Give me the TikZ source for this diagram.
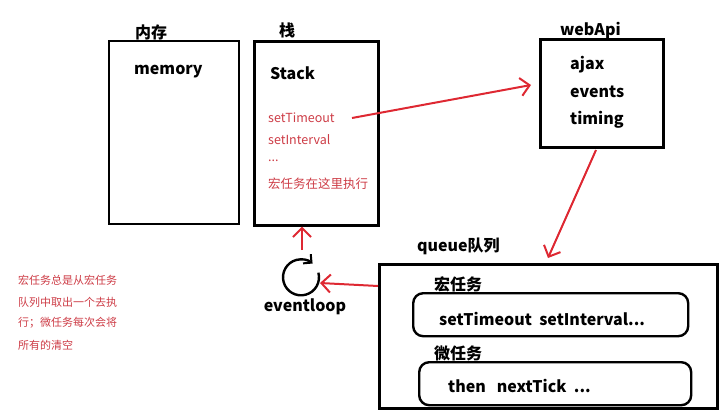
\documentclass[tikz,border=0pt]{standalone}
\usepackage{fontspec}
\setmainfont{Noto Sans CJK SC}
\usetikzlibrary{arrows.meta}
\definecolor{myred}{RGB}{222,40,50}
\definecolor{tred}{RGB}{205,60,70}
\tikzset{
  box/.style={draw=black, line width=2.6pt, inner sep=0pt},
  rbox/.style={draw=black, line width=2.4pt, rounded corners=10pt, inner sep=0pt},
  lbl/.style={font=\fontsize{16}{18}\selectfont\bfseries, anchor=west, inner sep=0pt},
  rtxt/.style={font=\fontsize{12.5}{14}\selectfont, text=tred, anchor=west, inner sep=0pt},
  note/.style={font=\fontsize{11}{21.7}\selectfont, text=tred, anchor=west, inner sep=0pt},
  rarrow/.style={draw=myred, line width=2pt, -{Straight Barb[length=9pt,width=18pt,line width=2pt]}},
}
\begin{document}
\begin{tikzpicture}[x=1pt,y=-1pt]
\useasboundingbox (0,0) rectangle (720,417);
% boxes
\draw[box] (109,41) rectangle (239,224);
\node[box, minimum width=124pt, minimum height=184pt, anchor=north west] (stack) at (253,40) {};
\node[box, minimum width=123pt, minimum height=108pt, anchor=north west] (web) at (539,38) {};
\node[box, minimum width=338pt, minimum height=144pt, anchor=north west] (queue) at (378,263) {};
\node[rbox, minimum width=275pt, minimum height=43pt, anchor=north west] (macro) at (412,292) {};
\node[rbox, minimum width=272pt, minimum height=43pt, anchor=north west] (micro) at (418,361) {};
% titles
\node[lbl] (tmem) at (135,32) {内存};
\node[lbl] (tstk) at (279,30) {栈};
\node[lbl] (tweb) at (560,31) {webApi};
\node[lbl] (tq) at (417,246) {queue队列};
\node[lbl] (tma) at (434,284) {宏任务};
\node[lbl] (tmi) at (434,353) {微任务};
% box contents
\node[lbl] (mem) at (134,72) {memory};
\node[lbl] (stk) at (270,73) {Stack};
\node[rtxt] (st1) at (268,118) {setTimeout};
\node[rtxt] (st2) at (268,140) {setInterval};
\node[rtxt] (st3) at (268,161) {...};
\node[rtxt] (st4) at (268,184) {宏任务在这里执行};
\node[lbl] (w1) at (570,65) {ajax};
\node[lbl] (w2) at (570,92) {events};
\node[lbl] (w3) at (570,120) {timing};
\node[lbl] (m1) at (439,319) {setTimeout\ \ setInterval...};
\node[lbl] (m2) at (448,386) {then\ \ \ nextTick\ \ ...};
% note
\node[note] (n1) at (18,280) {宏任务总是从宏任务};
\node[note] (n2) at (18,302) {队列中取出一个去执};
\node[note] (n3) at (18,323) {行；微任务每次会将};
\node[note] (n4) at (18,345) {所有的清空};
% eventloop
\coordinate (ec) at (301,268);
\draw[line width=2.4pt, -{Straight Barb[length=6pt,width=12pt,line width=2pt]}] ([shift={(-15:18pt)}]ec) arc[start angle=15, end angle=-310, radius=18pt];
\node[lbl, anchor=north] (el) at (305,299) {eventloop};
% arrows
\coordinate (a1) at (352,118);
\coordinate (a1e) at (531,85);
\draw[rarrow] (a1) -- (a1e);
\coordinate (b1) at (596,150);
\coordinate (b1e) at (548,258);
\draw[rarrow] (b1) -- (b1e);
\coordinate (c1) at (302,250);
\draw[rarrow] (c1) -- (stack.south -| c1);
\coordinate (d1) at (320,283);
\draw[rarrow] (queue.west |- 0,286) -- (d1);
\end{tikzpicture}
\end{document}
